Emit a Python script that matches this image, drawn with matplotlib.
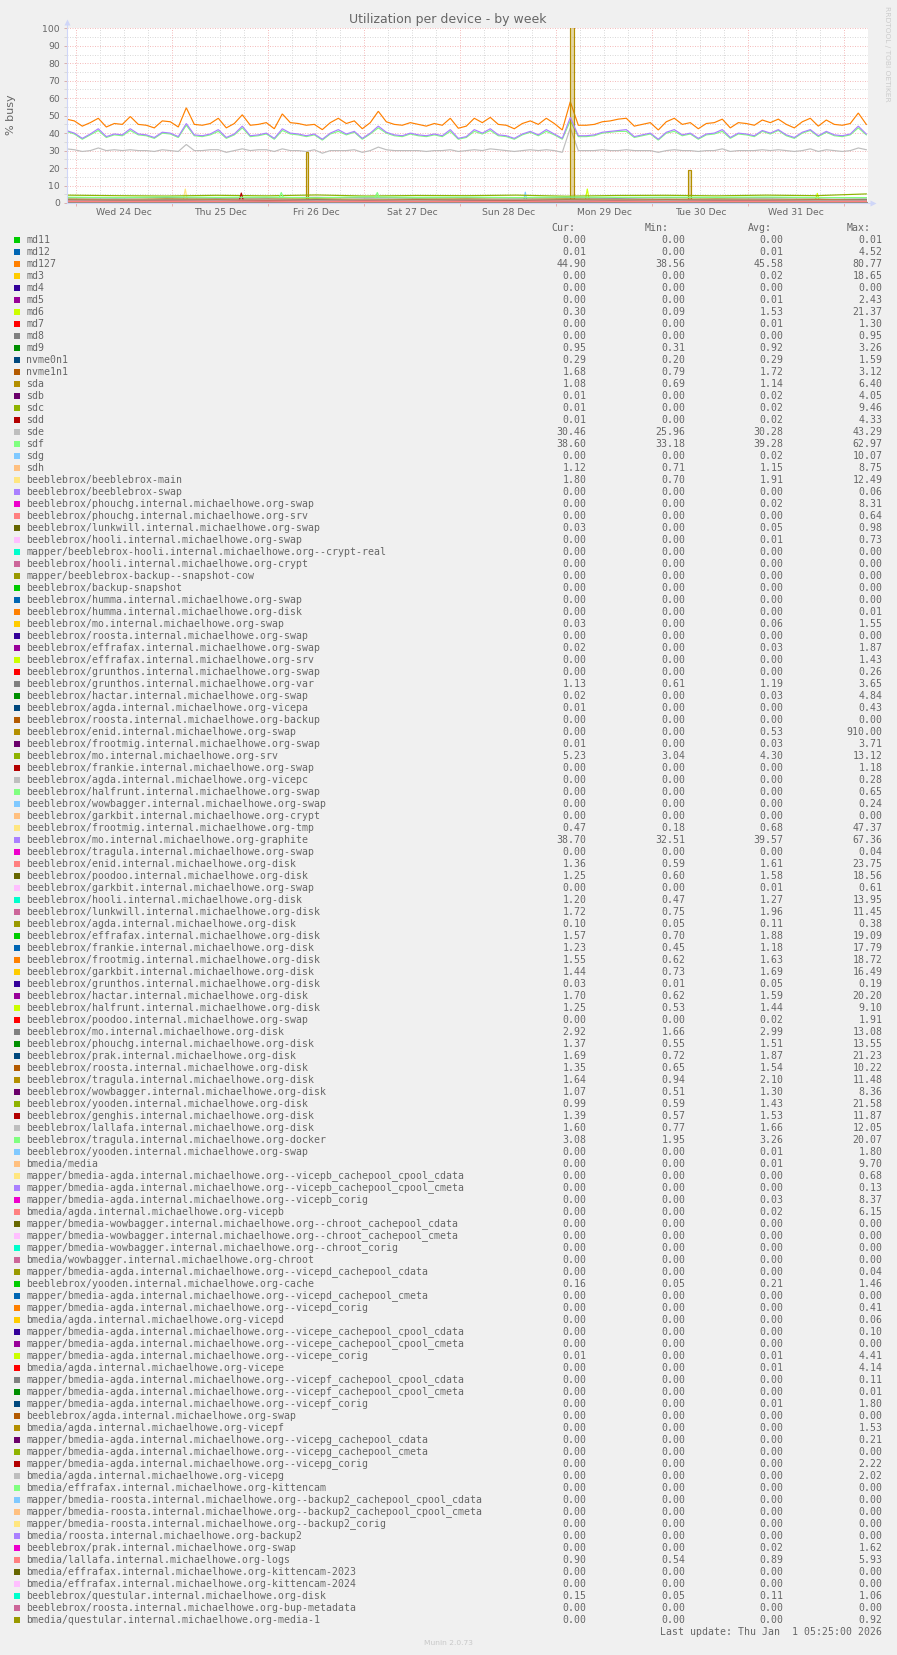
"""Munin 'Utilization per device - by week' graph redrawn with matplotlib."""

import numpy as np
import matplotlib
matplotlib.use("Agg")
import matplotlib.pyplot as plt
from matplotlib.patches import Rectangle
from matplotlib.transforms import blended_transform_factory

W_PX, H_PX = 897, 1655

# hours are counted from Wed 24 Dec 00:00
day_labels = ["Wed 24 Dec", "Thu 25 Dec", "Fri 26 Dec", "Sat 27 Dec",
              "Sun 28 Dec", "Mon 29 Dec", "Tue 30 Dec", "Wed 31 Dec"]
window_hours = [-2.4, 197.85]

# munin colour palette, cycled over the data sources
palette = ["#00CC00", "#0066B3", "#FF8000", "#FFCC00", "#330099", "#990099",
           "#CCFF00", "#FF0000", "#808080", "#008F00", "#00487D", "#B35A00",
           "#B38F00", "#6B006B", "#8FB300", "#B30000", "#BEBEBE", "#80FF80",
           "#80C9FF", "#FFC080", "#FFE680", "#AA80FF", "#EE00CC", "#FF8080",
           "#666600", "#FFBFFF", "#00FFCC", "#CC6699", "#999900"]

devices = [
    "md11", "md12", "md127", "md3", "md4", "md5", "md6", "md7", "md8", "md9",
    "nvme0n1", "nvme1n1", "sda", "sdb", "sdc", "sdd", "sde", "sdf", "sdg", "sdh",
    "beeblebrox/beeblebrox-main",
    "beeblebrox/beeblebrox-swap",
    "beeblebrox/phouchg.internal.michaelhowe.org-swap",
    "beeblebrox/phouchg.internal.michaelhowe.org-srv",
    "beeblebrox/lunkwill.internal.michaelhowe.org-swap",
    "beeblebrox/hooli.internal.michaelhowe.org-swap",
    "mapper/beeblebrox-hooli.internal.michaelhowe.org--crypt-real",
    "beeblebrox/hooli.internal.michaelhowe.org-crypt",
    "mapper/beeblebrox-backup--snapshot-cow",
    "beeblebrox/backup-snapshot",
    "beeblebrox/humma.internal.michaelhowe.org-swap",
    "beeblebrox/humma.internal.michaelhowe.org-disk",
    "beeblebrox/mo.internal.michaelhowe.org-swap",
    "beeblebrox/roosta.internal.michaelhowe.org-swap",
    "beeblebrox/effrafax.internal.michaelhowe.org-swap",
    "beeblebrox/effrafax.internal.michaelhowe.org-srv",
    "beeblebrox/grunthos.internal.michaelhowe.org-swap",
    "beeblebrox/grunthos.internal.michaelhowe.org-var",
    "beeblebrox/hactar.internal.michaelhowe.org-swap",
    "beeblebrox/agda.internal.michaelhowe.org-vicepa",
    "beeblebrox/roosta.internal.michaelhowe.org-backup",
    "beeblebrox/enid.internal.michaelhowe.org-swap",
    "beeblebrox/frootmig.internal.michaelhowe.org-swap",
    "beeblebrox/mo.internal.michaelhowe.org-srv",
    "beeblebrox/frankie.internal.michaelhowe.org-swap",
    "beeblebrox/agda.internal.michaelhowe.org-vicepc",
    "beeblebrox/halfrunt.internal.michaelhowe.org-swap",
    "beeblebrox/wowbagger.internal.michaelhowe.org-swap",
    "beeblebrox/garkbit.internal.michaelhowe.org-crypt",
    "beeblebrox/frootmig.internal.michaelhowe.org-tmp",
    "beeblebrox/mo.internal.michaelhowe.org-graphite",
    "beeblebrox/tragula.internal.michaelhowe.org-swap",
    "beeblebrox/enid.internal.michaelhowe.org-disk",
    "beeblebrox/poodoo.internal.michaelhowe.org-disk",
    "beeblebrox/garkbit.internal.michaelhowe.org-swap",
    "beeblebrox/hooli.internal.michaelhowe.org-disk",
    "beeblebrox/lunkwill.internal.michaelhowe.org-disk",
    "beeblebrox/agda.internal.michaelhowe.org-disk",
    "beeblebrox/effrafax.internal.michaelhowe.org-disk",
    "beeblebrox/frankie.internal.michaelhowe.org-disk",
    "beeblebrox/frootmig.internal.michaelhowe.org-disk",
    "beeblebrox/garkbit.internal.michaelhowe.org-disk",
    "beeblebrox/grunthos.internal.michaelhowe.org-disk",
    "beeblebrox/hactar.internal.michaelhowe.org-disk",
    "beeblebrox/halfrunt.internal.michaelhowe.org-disk",
    "beeblebrox/poodoo.internal.michaelhowe.org-swap",
    "beeblebrox/mo.internal.michaelhowe.org-disk",
    "beeblebrox/phouchg.internal.michaelhowe.org-disk",
    "beeblebrox/prak.internal.michaelhowe.org-disk",
    "beeblebrox/roosta.internal.michaelhowe.org-disk",
    "beeblebrox/tragula.internal.michaelhowe.org-disk",
    "beeblebrox/wowbagger.internal.michaelhowe.org-disk",
    "beeblebrox/yooden.internal.michaelhowe.org-disk",
    "beeblebrox/genghis.internal.michaelhowe.org-disk",
    "beeblebrox/lallafa.internal.michaelhowe.org-disk",
    "beeblebrox/tragula.internal.michaelhowe.org-docker",
    "beeblebrox/yooden.internal.michaelhowe.org-swap",
    "bmedia/media",
    "mapper/bmedia-agda.internal.michaelhowe.org--vicepb_cachepool_cpool_cdata",
    "mapper/bmedia-agda.internal.michaelhowe.org--vicepb_cachepool_cpool_cmeta",
    "mapper/bmedia-agda.internal.michaelhowe.org--vicepb_corig",
    "bmedia/agda.internal.michaelhowe.org-vicepb",
    "mapper/bmedia-wowbagger.internal.michaelhowe.org--chroot_cachepool_cdata",
    "mapper/bmedia-wowbagger.internal.michaelhowe.org--chroot_cachepool_cmeta",
    "mapper/bmedia-wowbagger.internal.michaelhowe.org--chroot_corig",
    "bmedia/wowbagger.internal.michaelhowe.org-chroot",
    "mapper/bmedia-agda.internal.michaelhowe.org--vicepd_cachepool_cdata",
    "beeblebrox/yooden.internal.michaelhowe.org-cache",
    "mapper/bmedia-agda.internal.michaelhowe.org--vicepd_cachepool_cmeta",
    "mapper/bmedia-agda.internal.michaelhowe.org--vicepd_corig",
    "bmedia/agda.internal.michaelhowe.org-vicepd",
    "mapper/bmedia-agda.internal.michaelhowe.org--vicepe_cachepool_cpool_cdata",
    "mapper/bmedia-agda.internal.michaelhowe.org--vicepe_cachepool_cpool_cmeta",
    "mapper/bmedia-agda.internal.michaelhowe.org--vicepe_corig",
    "bmedia/agda.internal.michaelhowe.org-vicepe",
    "mapper/bmedia-agda.internal.michaelhowe.org--vicepf_cachepool_cpool_cdata",
    "mapper/bmedia-agda.internal.michaelhowe.org--vicepf_cachepool_cpool_cmeta",
    "mapper/bmedia-agda.internal.michaelhowe.org--vicepf_corig",
    "beeblebrox/agda.internal.michaelhowe.org-swap",
    "bmedia/agda.internal.michaelhowe.org-vicepf",
    "mapper/bmedia-agda.internal.michaelhowe.org--vicepg_cachepool_cdata",
    "mapper/bmedia-agda.internal.michaelhowe.org--vicepg_cachepool_cmeta",
    "mapper/bmedia-agda.internal.michaelhowe.org--vicepg_corig",
    "bmedia/agda.internal.michaelhowe.org-vicepg",
    "bmedia/effrafax.internal.michaelhowe.org-kittencam",
    "mapper/bmedia-roosta.internal.michaelhowe.org--backup2_cachepool_cpool_cdata",
    "mapper/bmedia-roosta.internal.michaelhowe.org--backup2_cachepool_cpool_cmeta",
    "mapper/bmedia-roosta.internal.michaelhowe.org--backup2_corig",
    "bmedia/roosta.internal.michaelhowe.org-backup2",
    "beeblebrox/prak.internal.michaelhowe.org-swap",
    "bmedia/lallafa.internal.michaelhowe.org-logs",
    "bmedia/effrafax.internal.michaelhowe.org-kittencam-2023",
    "bmedia/effrafax.internal.michaelhowe.org-kittencam-2024",
    "beeblebrox/questular.internal.michaelhowe.org-disk",
    "beeblebrox/roosta.internal.michaelhowe.org-bup-metadata",
    "bmedia/questular.internal.michaelhowe.org-media-1",
]

cur_vals = [
    0.00, 0.01, 44.90, 0.00, 0.00, 0.00, 0.30, 0.00, 0.00, 0.95,
    0.29, 1.68, 1.08, 0.01, 0.01, 0.01, 30.46, 38.60, 0.00, 1.12,
    1.80, 0.00, 0.00, 0.00, 0.03, 0.00, 0.00, 0.00, 0.00, 0.00,
    0.00, 0.00, 0.03, 0.00, 0.02, 0.00, 0.00, 1.13, 0.02, 0.01,
    0.00, 0.00, 0.01, 5.23, 0.00, 0.00, 0.00, 0.00, 0.00, 0.47,
    38.70, 0.00, 1.36, 1.25, 0.00, 1.20, 1.72, 0.10, 1.57, 1.23,
    1.55, 1.44, 0.03, 1.70, 1.25, 0.00, 2.92, 1.37, 1.69, 1.35,
    1.64, 1.07, 0.99, 1.39, 1.60, 3.08, 0.00, 0.00, 0.00, 0.00,
    0.00, 0.00, 0.00, 0.00, 0.00, 0.00, 0.00, 0.16, 0.00, 0.00,
    0.00, 0.00, 0.00, 0.01, 0.00, 0.00, 0.00, 0.00, 0.00, 0.00,
    0.00, 0.00, 0.00, 0.00, 0.00, 0.00, 0.00, 0.00, 0.00, 0.00,
    0.90, 0.00, 0.00, 0.15, 0.00, 0.00,
]
min_vals = [
    0.00, 0.00, 38.56, 0.00, 0.00, 0.00, 0.09, 0.00, 0.00, 0.31,
    0.20, 0.79, 0.69, 0.00, 0.00, 0.00, 25.96, 33.18, 0.00, 0.71,
    0.70, 0.00, 0.00, 0.00, 0.00, 0.00, 0.00, 0.00, 0.00, 0.00,
    0.00, 0.00, 0.00, 0.00, 0.00, 0.00, 0.00, 0.61, 0.00, 0.00,
    0.00, 0.00, 0.00, 3.04, 0.00, 0.00, 0.00, 0.00, 0.00, 0.18,
    32.51, 0.00, 0.59, 0.60, 0.00, 0.47, 0.75, 0.05, 0.70, 0.45,
    0.62, 0.73, 0.01, 0.62, 0.53, 0.00, 1.66, 0.55, 0.72, 0.65,
    0.94, 0.51, 0.59, 0.57, 0.77, 1.95, 0.00, 0.00, 0.00, 0.00,
    0.00, 0.00, 0.00, 0.00, 0.00, 0.00, 0.00, 0.05, 0.00, 0.00,
    0.00, 0.00, 0.00, 0.00, 0.00, 0.00, 0.00, 0.00, 0.00, 0.00,
    0.00, 0.00, 0.00, 0.00, 0.00, 0.00, 0.00, 0.00, 0.00, 0.00,
    0.54, 0.00, 0.00, 0.05, 0.00, 0.00,
]
avg_vals = [
    0.00, 0.01, 45.58, 0.02, 0.00, 0.01, 1.53, 0.01, 0.00, 0.92,
    0.29, 1.72, 1.14, 0.02, 0.02, 0.02, 30.28, 39.28, 0.02, 1.15,
    1.91, 0.00, 0.02, 0.00, 0.05, 0.01, 0.00, 0.00, 0.00, 0.00,
    0.00, 0.00, 0.06, 0.00, 0.03, 0.00, 0.00, 1.19, 0.03, 0.00,
    0.00, 0.53, 0.03, 4.30, 0.00, 0.00, 0.00, 0.00, 0.00, 0.68,
    39.57, 0.00, 1.61, 1.58, 0.01, 1.27, 1.96, 0.11, 1.88, 1.18,
    1.63, 1.69, 0.05, 1.59, 1.44, 0.02, 2.99, 1.51, 1.87, 1.54,
    2.10, 1.30, 1.43, 1.53, 1.66, 3.26, 0.01, 0.01, 0.00, 0.00,
    0.03, 0.02, 0.00, 0.00, 0.00, 0.00, 0.00, 0.21, 0.00, 0.00,
    0.00, 0.00, 0.00, 0.01, 0.01, 0.00, 0.00, 0.01, 0.00, 0.00,
    0.00, 0.00, 0.00, 0.00, 0.00, 0.00, 0.00, 0.00, 0.00, 0.02,
    0.89, 0.00, 0.00, 0.11, 0.00, 0.00,
]
max_vals = [
    0.01, 4.52, 80.77, 18.65, 0.00, 2.43, 21.37, 1.30, 0.95, 3.26,
    1.59, 3.12, 6.40, 4.05, 9.46, 4.33, 43.29, 62.97, 10.07, 8.75,
    12.49, 0.06, 8.31, 0.64, 0.98, 0.73, 0.00, 0.00, 0.00, 0.00,
    0.00, 0.01, 1.55, 0.00, 1.87, 1.43, 0.26, 3.65, 4.84, 0.43,
    0.00, 910.00, 3.71, 13.12, 1.18, 0.28, 0.65, 0.24, 0.00, 47.37,
    67.36, 0.04, 23.75, 18.56, 0.61, 13.95, 11.45, 0.38, 19.09, 17.79,
    18.72, 16.49, 0.19, 20.20, 9.10, 1.91, 13.08, 13.55, 21.23, 10.22,
    11.48, 8.36, 21.58, 11.87, 12.05, 20.07, 1.80, 9.70, 0.68, 0.13,
    8.37, 6.15, 0.00, 0.00, 0.00, 0.00, 0.04, 1.46, 0.00, 0.41,
    0.06, 0.10, 0.00, 4.41, 4.14, 0.11, 0.01, 1.80, 0.00, 1.53,
    0.21, 0.00, 2.22, 2.02, 0.00, 0.00, 0.00, 0.00, 0.00, 1.62,
    5.93, 0.00, 0.00, 1.06, 0.00, 0.92,
]

# two-hourly samples of the busy devices
hours_2h = -2.5 + 2.0 * np.arange(101)
md127_busy = [
    48, 47, 44, 46, 48.5, 43.5, 45.5, 45, 49.5, 45,
    44.5, 43, 47, 46.5, 43.5, 54.5, 45, 44.5, 45.5, 48.5,
    43, 45.5, 50.5, 44.5, 45, 46, 42.5, 51, 46, 45.5,
    44.5, 45, 42, 46, 48.5, 45.5, 47, 42.5, 46, 52.5,
    46.5, 45, 44.5, 46, 45, 44, 45.5, 44.5, 48.5, 42.8,
    44, 48.5, 46, 49, 45, 44.5, 42.5, 45.5, 47, 45,
    48.5, 45.5, 41.8, 58, 44.5, 44.5, 45, 46.5, 47, 48,
    48.5, 44, 45, 46, 41.8, 46.5, 48.5, 45, 46, 42.5,
    45.5, 46, 48, 43, 46, 45.5, 44.5, 47.5, 46, 48,
    45, 43, 46.5, 48.5, 44, 47.5, 45, 44.5, 45.5, 51.5,
    45,
]
graphite_busy = [
    41.5, 40, 37, 39.5, 42.5, 38, 39.5, 39, 42.5, 39.5,
    39, 37.5, 40.5, 40, 38, 45.5, 39, 38.5, 39.5, 42,
    37.5, 39.5, 44, 38.5, 39, 40, 37, 42.5, 40, 39.5,
    38.5, 39.5, 36.5, 40, 42, 39.5, 41, 37, 40, 44,
    40.5, 39, 38.5, 40, 39, 38.5, 39.5, 38.5, 42, 37,
    38, 42, 40, 42.5, 39, 38.5, 37, 39.5, 41, 39,
    42, 39.5, 37, 49, 38.5, 38.5, 39, 40.5, 41, 41.5,
    42, 38, 39, 40, 36.5, 40.5, 42, 39, 40, 37,
    39.5, 40, 42, 37.5, 40, 39.5, 38.5, 41.5, 40, 42,
    39, 37.5, 40.5, 42, 38.5, 41, 39, 38.5, 39.5, 44,
    39.5,
]
sdf_busy = [
    41, 39.5, 36.5, 39, 41.5, 37.5, 39, 38.5, 41.5, 39,
    38.5, 37, 40, 39.5, 37.5, 44.5, 38.5, 38, 39, 41,
    37, 39, 43, 38, 38.5, 39.5, 36.5, 41.5, 39.5, 39,
    38, 39, 36, 39.5, 41, 39, 40.5, 36.5, 39.5, 43,
    40, 38.5, 38, 39.5, 38.5, 38, 39, 38, 41, 36.5,
    37.5, 41, 39.5, 41.5, 38.5, 38, 36.5, 39, 40.5, 38.5,
    41, 39, 36.5, 47, 38, 38, 38.5, 40, 40.5, 41,
    41, 37.5, 38.5, 39.5, 36, 40, 41, 38.5, 39.5, 36.5,
    39, 39.5, 41, 37, 39.5, 39, 38, 41, 39.5, 41.5,
    38.5, 37, 40, 41.5, 38, 40.5, 38.5, 38, 39, 43,
    39,
]
sde_busy = [
    31, 30.5, 29.5, 30, 31.5, 30, 30.5, 30, 30.5, 30,
    30, 29.5, 30.5, 30, 29.5, 33.5, 30, 30, 30.5, 30.5,
    29, 30, 31, 30, 30.5, 30.5, 29.5, 31, 30, 30,
    29.5, 30.5, 28.5, 30, 30, 30, 30.5, 29, 30, 32,
    30.5, 30, 30, 30, 30, 29.5, 30, 30, 30.5, 29.5,
    30, 30.5, 30, 31, 30.5, 30, 29.5, 30, 30.5, 30,
    30.5, 30, 29, 43, 30, 30, 30, 30.5, 30, 30,
    30.5, 30, 30, 30, 29, 30, 30.5, 30, 30, 29.5,
    30, 30, 31, 29.5, 30, 30, 30, 30.5, 30, 30.5,
    30, 29.5, 30, 31, 29.5, 30.5, 30, 29.5, 30, 31.5,
    30.5,
]

# enid swap is idle apart from three short bursts
enid_swap_hours = [-2.5, 57.4, 57.4, 58.0, 58.0, 123.35, 123.35, 124.35,
                   124.35, 153.0, 153.0, 153.6, 153.6, 197.5]
enid_swap_busy = [0, 0, 29, 29, 0, 0, 910, 910, 0, 0, 19, 19, 0, 0]

# the low band, sampled every 12.5 hours
hours_12h = -2.5 + 12.5 * np.arange(17)
md6_busy = [1.4, 1.6, 1.5, 1.7, 1.4, 1.5, 1.6, 1.5, 1.4, 1.6, 1.5, 1.7, 1.5, 1.4, 1.6, 1.5, 0.3]
md9_busy = [0.9, 1.0, 0.9, 0.8, 1.0, 0.9, 0.9, 1.0, 0.8, 0.9, 1.0, 0.9, 0.9, 0.8, 1.0, 0.9, 0.95]
nvme1n1_busy = [1.7, 1.8, 1.6, 1.7, 1.9, 1.6, 1.7, 1.8, 1.7, 1.6, 1.8, 1.7, 1.7, 1.8, 1.6, 1.7, 1.7]
sda_busy = [1.1, 1.2, 1.1, 1.2, 1.1, 1.0, 1.2, 1.1, 1.2, 1.1, 1.2, 1.1, 1.1, 1.2, 1.1, 1.2, 1.1]
sdh_busy = [1.2, 1.1, 1.2, 1.1, 1.2, 1.1, 1.1, 1.2, 1.1, 1.2, 1.1, 1.2, 1.1, 1.2, 1.1, 1.1, 1.1]
main_busy = [1.9, 2.0, 1.8, 2.1, 1.9, 1.8, 2.0, 1.9, 2.2, 1.8, 1.9, 2.0, 1.8, 2.1, 1.9, 2.0, 1.8]
grunthos_var_busy = [1.2, 1.1, 1.3, 1.2, 1.1, 1.2, 1.2, 1.1, 1.3, 1.2, 1.1, 1.2, 1.2, 1.1, 1.2, 1.2, 1.1]
mo_srv_busy = [4.5, 4.2, 4.0, 4.4, 4.1, 4.6, 4.0, 4.3, 4.2, 4.5, 3.9, 4.3, 4.4, 4.1, 4.5, 4.2, 5.2]
frootmig_tmp_busy = [0.6, 0.7, 0.6, 0.7, 0.8, 0.6, 0.7, 0.6, 0.7, 0.6, 0.7, 0.7, 0.6, 0.7, 0.6, 0.7, 0.5]
enid_disk_busy = [1.6, 1.5, 1.7, 1.6, 1.7, 1.5, 1.6, 1.7, 1.6, 1.5, 1.7, 1.6, 1.6, 1.5, 1.7, 1.6, 1.4]
poodoo_disk_busy = [1.5, 1.6, 1.6, 1.5, 1.7, 1.6, 1.5, 1.6, 1.6, 1.7, 1.5, 1.6, 1.5, 1.6, 1.7, 1.5, 1.25]
hooli_disk_busy = [1.3, 1.2, 1.3, 1.2, 1.4, 1.2, 1.3, 1.2, 1.3, 1.3, 1.2, 1.3, 1.2, 1.3, 1.2, 1.3, 1.2]
lunkwill_disk_busy = [2.0, 1.8, 2.1, 1.9, 2.2, 1.8, 2.0, 1.9, 2.1, 1.8, 2.0, 2.2, 1.9, 2.0, 1.8, 2.1, 1.7]
effrafax_disk_busy = [1.8, 2.0, 1.9, 1.7, 2.0, 1.9, 1.8, 2.1, 1.9, 1.8, 2.0, 1.9, 1.7, 2.0, 1.9, 1.8, 1.6]
frankie_disk_busy = [1.2, 1.1, 1.2, 1.3, 1.1, 1.2, 1.1, 1.2, 1.2, 1.1, 1.3, 1.2, 1.1, 1.2, 1.2, 1.1, 1.2]
frootmig_disk_busy = [1.6, 1.7, 1.5, 1.7, 1.6, 1.8, 1.6, 1.5, 1.7, 1.6, 1.7, 1.6, 1.5, 1.7, 1.6, 1.7, 1.55]
garkbit_disk_busy = [1.7, 1.6, 1.8, 1.7, 1.6, 1.8, 1.7, 1.6, 1.9, 1.7, 1.6, 1.7, 1.8, 1.6, 1.7, 1.7, 1.4]
hactar_disk_busy = [1.6, 1.5, 1.6, 1.7, 1.5, 1.6, 1.6, 1.5, 1.7, 1.6, 1.5, 1.6, 1.6, 1.7, 1.5, 1.6, 1.7]
halfrunt_disk_busy = [1.4, 1.5, 1.4, 1.5, 1.4, 1.4, 1.5, 1.4, 1.5, 1.4, 1.5, 1.4, 1.4, 1.5, 1.4, 1.5, 1.25]
mo_disk_busy = [3.0, 2.9, 3.1, 2.8, 3.0, 3.2, 2.9, 3.0, 3.1, 2.9, 3.0, 2.8, 3.1, 3.0, 2.9, 3.1, 2.9]
phouchg_disk_busy = [1.5, 1.6, 1.5, 1.4, 1.6, 1.5, 1.5, 1.6, 1.4, 1.5, 1.6, 1.5, 1.5, 1.4, 1.6, 1.5, 1.4]
prak_disk_busy = [1.9, 1.8, 2.0, 1.9, 1.7, 2.0, 1.9, 1.8, 2.0, 1.9, 1.8, 1.9, 2.0, 1.8, 1.9, 1.9, 1.7]
roosta_disk_busy = [1.5, 1.6, 1.5, 1.6, 1.5, 1.5, 1.6, 1.5, 1.6, 1.5, 1.6, 1.5, 1.5, 1.6, 1.5, 1.6, 1.35]
tragula_disk_busy = [2.2, 1.9, 2.3, 2.0, 2.1, 2.4, 1.9, 2.1, 2.2, 2.0, 2.3, 1.9, 2.1, 2.2, 2.0, 2.1, 1.6]
wowbagger_disk_busy = [1.3, 1.2, 1.3, 1.4, 1.2, 1.3, 1.3, 1.2, 1.4, 1.3, 1.2, 1.3, 1.3, 1.4, 1.2, 1.3, 1.1]
yooden_disk_busy = [1.4, 1.5, 1.4, 1.3, 1.5, 1.4, 1.5, 1.4, 1.3, 1.5, 1.4, 1.5, 1.4, 1.4, 1.5, 1.4, 1.0]
genghis_disk_busy = [1.5, 1.6, 1.5, 1.5, 1.6, 1.5, 1.4, 1.6, 1.5, 1.6, 1.5, 1.5, 1.6, 1.5, 1.5, 1.6, 1.4]
lallafa_disk_busy = [1.6, 1.7, 1.7, 1.6, 1.8, 1.6, 1.7, 1.6, 1.7, 1.8, 1.6, 1.7, 1.6, 1.7, 1.7, 1.6, 1.6]
tragula_docker_busy = [3.3, 3.1, 3.4, 3.2, 3.3, 3.0, 3.5, 3.2, 3.3, 3.1, 3.4, 3.2, 3.3, 3.2, 3.4, 3.1, 3.1]
lallafa_logs_busy = [0.9, 0.8, 0.9, 0.9, 1.0, 0.8, 0.9, 0.9, 0.8, 0.9, 1.0, 0.9, 0.8, 0.9, 0.9, 0.8, 0.9]

# short bursts in the low band: legend row, hour, peak, level around it
burst_rows = [20, 73, 75, 75, 18, 6, 6]
burst_hours = [27.25, 41.25, 51.25, 75.25, 112.25, 127.75, 185.25]
burst_peaks = [8.0, 5.7, 6.0, 6.0, 6.2, 8.0, 5.5]
burst_levels = [1.9, 1.5, 3.2, 3.2, 0.0, 1.5, 1.5]

last_update = "Last update: Thu Jan  1 05:25:00 2026"

series_by_row = {
    2: (hours_2h, md127_busy), 6: (hours_12h, md6_busy), 9: (hours_12h, md9_busy),
    11: (hours_12h, nvme1n1_busy), 12: (hours_12h, sda_busy), 16: (hours_2h, sde_busy),
    17: (hours_2h, sdf_busy), 19: (hours_12h, sdh_busy), 20: (hours_12h, main_busy),
    37: (hours_12h, grunthos_var_busy), 41: (enid_swap_hours, enid_swap_busy),
    43: (hours_12h, mo_srv_busy), 49: (hours_12h, frootmig_tmp_busy),
    50: (hours_2h, graphite_busy), 52: (hours_12h, enid_disk_busy),
    53: (hours_12h, poodoo_disk_busy), 55: (hours_12h, hooli_disk_busy),
    56: (hours_12h, lunkwill_disk_busy), 58: (hours_12h, effrafax_disk_busy),
    59: (hours_12h, frankie_disk_busy), 60: (hours_12h, frootmig_disk_busy),
    61: (hours_12h, garkbit_disk_busy), 63: (hours_12h, hactar_disk_busy),
    64: (hours_12h, halfrunt_disk_busy), 66: (hours_12h, mo_disk_busy),
    67: (hours_12h, phouchg_disk_busy), 68: (hours_12h, prak_disk_busy),
    69: (hours_12h, roosta_disk_busy), 70: (hours_12h, tragula_disk_busy),
    71: (hours_12h, wowbagger_disk_busy), 72: (hours_12h, yooden_disk_busy),
    73: (hours_12h, genghis_disk_busy), 74: (hours_12h, lallafa_disk_busy),
    75: (hours_12h, tragula_docker_busy), 110: (hours_12h, lallafa_logs_busy),
}

TEXT = "#666666"
AXIS = "#CFD6F8"
GRID_MINOR = "#DADADA"
GRID_MAJOR = "#F5BDBD"


def fig_xy(x_px, y_px):
    return x_px / W_PX, 1.0 - y_px / H_PX


fig = plt.figure(figsize=(W_PX / 100, H_PX / 100), dpi=100, facecolor="#F0F0F0")
left, top, right, bottom = 66.7, 28.3, 867.7, 203.0
ax = fig.add_axes([left / W_PX, 1 - bottom / H_PX, (right - left) / W_PX, (bottom - top) / H_PX])
ax.set_facecolor("white")
ax.set_xlim(*window_hours)
ax.set_ylim(0, 100)
for spine in ax.spines.values():
    spine.set_visible(False)

# grid: dotted, red every 10 % / midnight, grey otherwise
for level in range(5, 101, 5):
    ax.axhline(level, color=GRID_MAJOR if level % 10 == 0 else GRID_MINOR,
               lw=0.72, ls=(0, (1, 1.5)), zorder=1)
for hour in range(0, int(window_hours[1]) + 1, 6):
    ax.axvline(hour, color=GRID_MAJOR if hour % 24 == 0 else GRID_MINOR,
               lw=0.72, ls=(0, (1, 1.5)), zorder=1)

# data sources, drawn in legend order like rrdtool does
for row, name in enumerate(devices):
    color = palette[row % len(palette)]
    if row in series_by_row:
        hours, values = series_by_row[row]
    else:
        hours, values = window_hours, [avg_vals[row], avg_vals[row]]
    ax.plot(hours, values, color=color, lw=0.85, zorder=2, solid_joinstyle="miter")
    if row == 41:
        ax.fill_between(hours, values, color=color, alpha=0.35, lw=0, zorder=2)
    for b_row, b_hour, b_peak, b_level in zip(burst_rows, burst_hours, burst_peaks, burst_levels):
        if b_row == row:
            ax.plot([b_hour - 0.5, b_hour, b_hour + 0.5], [b_level, b_peak, b_level],
                    color=color, lw=0.85, zorder=2)

# axes with arrow heads
ax.plot([0, 0], [0, 1.035], transform=ax.transAxes, color=AXIS, lw=0.8,
        clip_on=False, zorder=6)
ax.plot([0, 1.006], [0, 0], transform=ax.transAxes, color=AXIS, lw=0.8,
        clip_on=False, zorder=6)
ax.plot([0], [1.035], transform=ax.transAxes, marker="^", ms=4.5, color=AXIS,
        mec="none", clip_on=False, zorder=6)
ax.plot([1.006], [0], transform=ax.transAxes, marker=">", ms=4.5, color=AXIS,
        mec="none", clip_on=False, zorder=6)

ax.set_yticks(np.arange(0, 101, 10))
ax.set_yticks(np.arange(5, 100, 10), minor=True)
ax.tick_params(axis="y", which="major", length=2.2, width=0.72, color="#D8B0B0",
               labelsize=6.7, labelcolor=TEXT, pad=2.6)
ax.tick_params(axis="y", which="minor", length=2.2, width=0.72, color=GRID_MINOR)
ax.set_xticks(np.arange(0, window_hours[1], 24))
ax.set_xticks([], minor=True)
ax.tick_params(axis="x", which="major", length=2.2, width=0.72, color="#E8B0B0",
               labelbottom=False)

label_tf = blended_transform_factory(ax.transData, fig.transFigure)
for day, label in enumerate(day_labels):
    ax.text(12 + 24 * day, 1 - 212.5 / H_PX, label, transform=label_tf,
            ha="center", va="center", fontsize=6.7, color=TEXT)

fig.text(*fig_xy(448, 19.5), "Utilization per device - by week", ha="center",
         va="center", fontsize=9, color=TEXT)
fig.text(*fig_xy(11, 115), "% busy", rotation=90, ha="center", va="center",
         fontsize=8, color=TEXT)
fig.text(*fig_xy(887, 54), "RRDTOOL / TOBI OETIKER", rotation=270, ha="center",
         va="center", fontsize=5.4, color="#CCCCCC")

# legend table
mono = {"family": "DejaVu Sans Mono", "size": 7.15, "color": TEXT}
header_y = 227.7
for head, x_px in zip(["Cur:", "Min:", "Avg:", "Max:"], [551.7, 645.0, 747.7, 846.7]):
    fig.text(*fig_xy(x_px, header_y), head, ha="left", va="center", **mono)

value_cols = [(cur_vals, 586.7), (min_vals, 685.7), (avg_vals, 783.3), (max_vals, 882.3)]
for row, name in enumerate(devices):
    y_px = 239.7 + 12.0 * row
    color = palette[row % len(palette)]
    fig.add_artist(Rectangle(fig_xy(14, y_px + 3), 6 / W_PX, 6 / H_PX,
                             transform=fig.transFigure, facecolor=color,
                             edgecolor="none"))
    fig.text(*fig_xy(26.3, y_px), name, ha="left", va="center", **mono)
    for values, x_px in value_cols:
        fig.text(*fig_xy(x_px, y_px), f"{values[row]:.2f}", ha="right",
                 va="center", **mono)

fig.text(*fig_xy(882.3, 1631.7), last_update, ha="right", va="center", **mono)
fig.text(*fig_xy(448, 1643), "Munin 2.0.73", ha="center", va="center",
         fontsize=5.4, color="#C8C8C8")

fig.savefig("out.png", dpi=100, facecolor="#F0F0F0")
